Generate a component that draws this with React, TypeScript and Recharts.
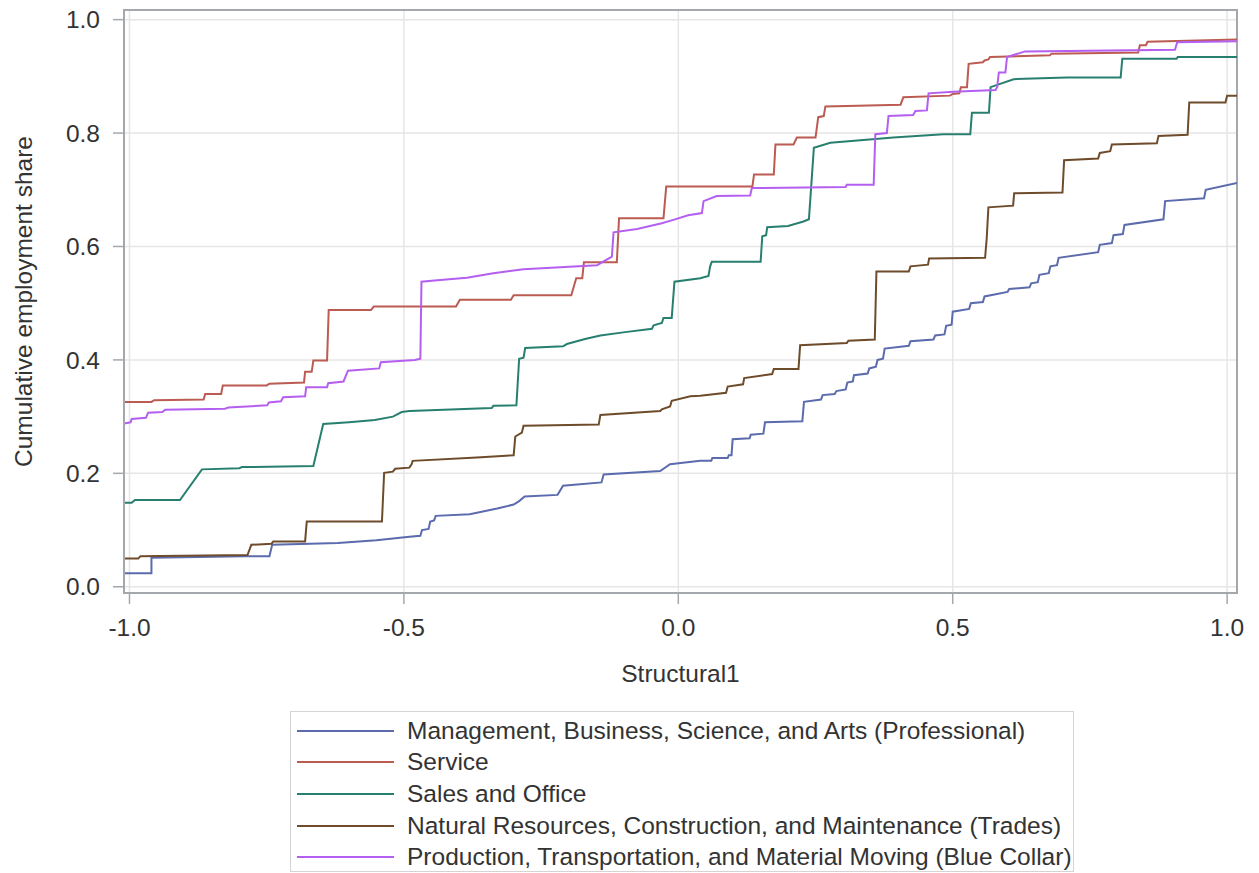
import { LineChart, Line, XAxis, YAxis, CartesianGrid, ReferenceArea } from "recharts";

// cumulative employment share by Structural1 value, corners of each step
const professional: [number, number][] = [
  [-1.01, 0.024], [-0.96, 0.024], [-0.96, 0.051], [-0.79, 0.054], [-0.745, 0.054], [-0.74, 0.074],
  [-0.62, 0.077], [-0.55, 0.082], [-0.49, 0.088], [-0.47, 0.09], [-0.467, 0.1], [-0.455, 0.102],
  [-0.452, 0.115], [-0.445, 0.117], [-0.442, 0.125], [-0.38, 0.128], [-0.33, 0.138], [-0.3, 0.145],
  [-0.29, 0.151], [-0.28, 0.159], [-0.22, 0.162], [-0.21, 0.178], [-0.14, 0.184], [-0.136, 0.198],
  [-0.033, 0.204], [-0.015, 0.216], [0.04, 0.222], [0.06, 0.222], [0.062, 0.227], [0.09, 0.227],
  [0.092, 0.232], [0.097, 0.232], [0.099, 0.26], [0.13, 0.262], [0.132, 0.268], [0.155, 0.27],
  [0.158, 0.29], [0.226, 0.292], [0.229, 0.326], [0.26, 0.33], [0.263, 0.338], [0.285, 0.34],
  [0.288, 0.345], [0.305, 0.348], [0.308, 0.36], [0.318, 0.362], [0.32, 0.373], [0.345, 0.376],
  [0.348, 0.385], [0.36, 0.388], [0.363, 0.4], [0.373, 0.402], [0.376, 0.42], [0.42, 0.425],
  [0.423, 0.433], [0.465, 0.436], [0.468, 0.443], [0.485, 0.445], [0.488, 0.46], [0.498, 0.462],
  [0.5, 0.485], [0.53, 0.49], [0.533, 0.5], [0.555, 0.502], [0.558, 0.512], [0.6, 0.52],
  [0.603, 0.525], [0.64, 0.528], [0.643, 0.535], [0.655, 0.537], [0.658, 0.55], [0.675, 0.553],
  [0.678, 0.565], [0.69, 0.567], [0.693, 0.58], [0.765, 0.59], [0.768, 0.603], [0.79, 0.606],
  [0.793, 0.62], [0.81, 0.622], [0.813, 0.638], [0.884, 0.648], [0.887, 0.68], [0.958, 0.685],
  [0.961, 0.7], [1.018, 0.712],
];

const service: [number, number][] = [
  [-1.01, 0.326], [-0.96, 0.326], [-0.955, 0.329], [-0.865, 0.33], [-0.862, 0.34], [-0.833, 0.34],
  [-0.83, 0.355], [-0.75, 0.355], [-0.745, 0.358], [-0.682, 0.36], [-0.68, 0.379], [-0.668, 0.379],
  [-0.665, 0.399], [-0.64, 0.399], [-0.637, 0.488], [-0.56, 0.488], [-0.555, 0.494], [-0.405, 0.494],
  [-0.398, 0.506], [-0.305, 0.506], [-0.3, 0.514], [-0.195, 0.514], [-0.186, 0.544], [-0.175, 0.544],
  [-0.172, 0.572], [-0.112, 0.572], [-0.108, 0.65], [-0.027, 0.65], [-0.022, 0.706], [0.135, 0.706],
  [0.138, 0.727], [0.174, 0.727], [0.177, 0.78], [0.21, 0.78], [0.216, 0.792], [0.25, 0.792],
  [0.255, 0.828], [0.265, 0.83], [0.268, 0.847], [0.405, 0.85], [0.41, 0.863], [0.495, 0.866],
  [0.5, 0.869], [0.512, 0.87], [0.515, 0.881], [0.526, 0.881], [0.529, 0.922], [0.555, 0.925],
  [0.558, 0.928], [0.565, 0.93], [0.568, 0.934], [0.677, 0.937], [0.68, 0.94], [0.838, 0.942],
  [0.841, 0.955], [0.852, 0.955], [0.855, 0.961], [1.018, 0.965],
];

const salesOffice: [number, number][] = [
  [-1.01, 0.148], [-0.996, 0.148], [-0.99, 0.153], [-0.908, 0.153], [-0.868, 0.207], [-0.8, 0.209],
  [-0.795, 0.211], [-0.665, 0.213], [-0.647, 0.287], [-0.6, 0.29], [-0.553, 0.294], [-0.52, 0.3],
  [-0.504, 0.308], [-0.49, 0.31], [-0.34, 0.315], [-0.337, 0.319], [-0.295, 0.32], [-0.29, 0.402],
  [-0.282, 0.404], [-0.279, 0.421], [-0.21, 0.424], [-0.203, 0.428], [-0.17, 0.437], [-0.142, 0.443],
  [-0.097, 0.449], [-0.048, 0.455], [-0.045, 0.461], [-0.03, 0.465], [-0.027, 0.474], [-0.012, 0.474],
  [-0.007, 0.538], [0.04, 0.544], [0.055, 0.548], [0.058, 0.565], [0.061, 0.573], [0.15, 0.573],
  [0.153, 0.618], [0.16, 0.62], [0.162, 0.634], [0.2, 0.636], [0.228, 0.644], [0.238, 0.648],
  [0.247, 0.774], [0.277, 0.783], [0.392, 0.792], [0.483, 0.798], [0.532, 0.798], [0.535, 0.836],
  [0.566, 0.836], [0.569, 0.881], [0.611, 0.895], [0.708, 0.898], [0.806, 0.898], [0.809, 0.931],
  [0.908, 0.931], [0.91, 0.934], [1.018, 0.934],
];

const trades: [number, number][] = [
  [-1.01, 0.05], [-0.984, 0.05], [-0.98, 0.054], [-0.785, 0.056], [-0.778, 0.074], [-0.741, 0.076],
  [-0.738, 0.08], [-0.68, 0.08], [-0.677, 0.115], [-0.54, 0.115], [-0.536, 0.201], [-0.52, 0.203],
  [-0.516, 0.208], [-0.49, 0.21], [-0.486, 0.216], [-0.484, 0.222], [-0.367, 0.228], [-0.3, 0.232],
  [-0.297, 0.265], [-0.285, 0.272], [-0.282, 0.284], [-0.145, 0.286], [-0.142, 0.303], [-0.033, 0.31],
  [-0.03, 0.313], [-0.015, 0.318], [-0.012, 0.328], [0.022, 0.336], [0.04, 0.337], [0.087, 0.342],
  [0.09, 0.353], [0.118, 0.357], [0.12, 0.368], [0.171, 0.375], [0.174, 0.384], [0.219, 0.384],
  [0.222, 0.426], [0.307, 0.43], [0.31, 0.434], [0.358, 0.436], [0.361, 0.556], [0.42, 0.556],
  [0.423, 0.565], [0.455, 0.568], [0.457, 0.579], [0.559, 0.58], [0.562, 0.615], [0.565, 0.669],
  [0.61, 0.672], [0.612, 0.694], [0.7, 0.695], [0.703, 0.752], [0.765, 0.755], [0.768, 0.765],
  [0.787, 0.768], [0.79, 0.78], [0.872, 0.782], [0.875, 0.795], [0.928, 0.797], [0.931, 0.854],
  [0.997, 0.854], [1.0, 0.866], [1.018, 0.866],
];

const blueCollar: [number, number][] = [
  [-1.01, 0.288], [-0.998, 0.29], [-0.996, 0.296], [-0.97, 0.298], [-0.966, 0.307], [-0.94, 0.308],
  [-0.935, 0.312], [-0.826, 0.314], [-0.82, 0.316], [-0.749, 0.32], [-0.746, 0.325], [-0.724, 0.327],
  [-0.72, 0.334], [-0.68, 0.336], [-0.678, 0.352], [-0.64, 0.352], [-0.638, 0.359], [-0.61, 0.362],
  [-0.602, 0.381], [-0.545, 0.385], [-0.542, 0.396], [-0.48, 0.4], [-0.47, 0.402], [-0.468, 0.538],
  [-0.434, 0.541], [-0.385, 0.545], [-0.337, 0.553], [-0.282, 0.56], [-0.148, 0.567], [-0.121, 0.582],
  [-0.118, 0.625], [-0.075, 0.631], [-0.03, 0.641], [-0.009, 0.647], [0.018, 0.655], [0.043, 0.659],
  [0.046, 0.68], [0.07, 0.689], [0.131, 0.69], [0.134, 0.703], [0.305, 0.705], [0.307, 0.709],
  [0.356, 0.709], [0.359, 0.798], [0.38, 0.8], [0.383, 0.83], [0.428, 0.832], [0.432, 0.839],
  [0.453, 0.84], [0.456, 0.87], [0.501, 0.873], [0.578, 0.876], [0.581, 0.881], [0.584, 0.907],
  [0.596, 0.907], [0.599, 0.934], [0.632, 0.944], [0.905, 0.947], [0.909, 0.96], [1.018, 0.962],
];

const seriesNames = [
  "Management, Business, Science, and Arts (Professional)",
  "Service",
  "Sales and Office",
  "Natural Resources, Construction, and Maintenance (Trades)",
  "Production, Transportation, and Material Moving (Blue Collar)",
];
const seriesPoints = [professional, service, salesOffice, trades, blueCollar];
const COLORS = ["#5b6bad", "#bb5b52", "#27806f", "#6e4c2b", "#b45ff0"];

const xTicks = [-1, -0.5, 0, 0.5, 1];
const yTicks = [0, 0.2, 0.4, 0.6, 0.8, 1.0];
const X_DOMAIN: [number, number] = [-1.01, 1.018];
const Y_DOMAIN: [number, number] = [-0.011, 1.017];

const FONT = "'Liberation Sans', Arial, sans-serif";
const FS = 24.5;
const AXIS_GRAY = "#a4a8ac";
const TEXT = "#333333";

export default function App() {
  const series = seriesPoints.map((pts) => pts.map(([x, y]) => ({ x, y })));
  return (
    <div style={{ position: "absolute", left: 0, top: 0, width: 1259, height: 873, background: "#fff", fontFamily: FONT }}>
      <LineChart width={1259} height={700} margin={{ top: 10, right: 22, bottom: 0, left: 0 }}>
        <CartesianGrid stroke="#e6e6e6" strokeWidth={1.5} />
        <XAxis
          type="number"
          dataKey="x"
          domain={X_DOMAIN}
          ticks={xTicks}
          allowDataOverflow
          tickFormatter={(v: number) => v.toFixed(1)}
          height={107}
          tickSize={11}
          tickMargin={15}
          stroke={AXIS_GRAY}
          axisLine={{ stroke: AXIS_GRAY, strokeWidth: 2 }}
          tickLine={{ stroke: AXIS_GRAY, strokeWidth: 1.5 }}
          tick={{ fill: TEXT, fontSize: FS, fontFamily: FONT }}
          label={{ value: "Structural1", position: "insideBottom", offset: 18, fill: TEXT, fontSize: FS, fontFamily: FONT }}
        />
        <YAxis
          type="number"
          domain={Y_DOMAIN}
          ticks={yTicks}
          allowDataOverflow
          tickFormatter={(v: number) => v.toFixed(1)}
          width={124}
          tickSize={11}
          tickMargin={13}
          stroke={AXIS_GRAY}
          axisLine={{ stroke: AXIS_GRAY, strokeWidth: 2 }}
          tickLine={{ stroke: AXIS_GRAY, strokeWidth: 1.5 }}
          tick={{ fill: TEXT, fontSize: FS, fontFamily: FONT }}
          label={{
            value: "Cumulative employment share",
            angle: -90,
            position: "insideLeft",
            offset: 23,
            fill: TEXT,
            fontSize: FS,
            fontFamily: FONT,
            style: { textAnchor: "middle" },
          }}
        />
        <ReferenceArea
          x1={X_DOMAIN[0]}
          x2={X_DOMAIN[1]}
          y1={Y_DOMAIN[0]}
          y2={Y_DOMAIN[1]}
          fill="none"
          stroke={AXIS_GRAY}
          strokeWidth={2}
          ifOverflow="visible"
        />
        {series.map((data, i) => (
          <Line
            key={seriesNames[i]}
            data={data}
            dataKey="y"
            type="linear"
            stroke={COLORS[i]}
            strokeWidth={2}
            dot={false}
            activeDot={false}
            isAnimationActive={false}
          />
        ))}
      </LineChart>

      {/* legend box under the plot */}
      <div
        style={{
          position: "absolute",
          left: 290,
          top: 711,
          width: 784,
          height: 161,
          border: "1.5px solid #d4d4d4",
          boxSizing: "border-box",
        }}
      >
        {seriesNames.map((name, i) => (
          <div
            key={name}
            style={{ position: "absolute", left: 6, top: 3 + i * 31.7, height: 31, display: "flex", alignItems: "center" }}
          >
            <span style={{ display: "inline-block", width: 97, height: 2, background: COLORS[i] }} />
            <span style={{ marginLeft: 13, fontSize: FS, color: TEXT, whiteSpace: "nowrap" }}>{name}</span>
          </div>
        ))}
      </div>
    </div>
  );
}
